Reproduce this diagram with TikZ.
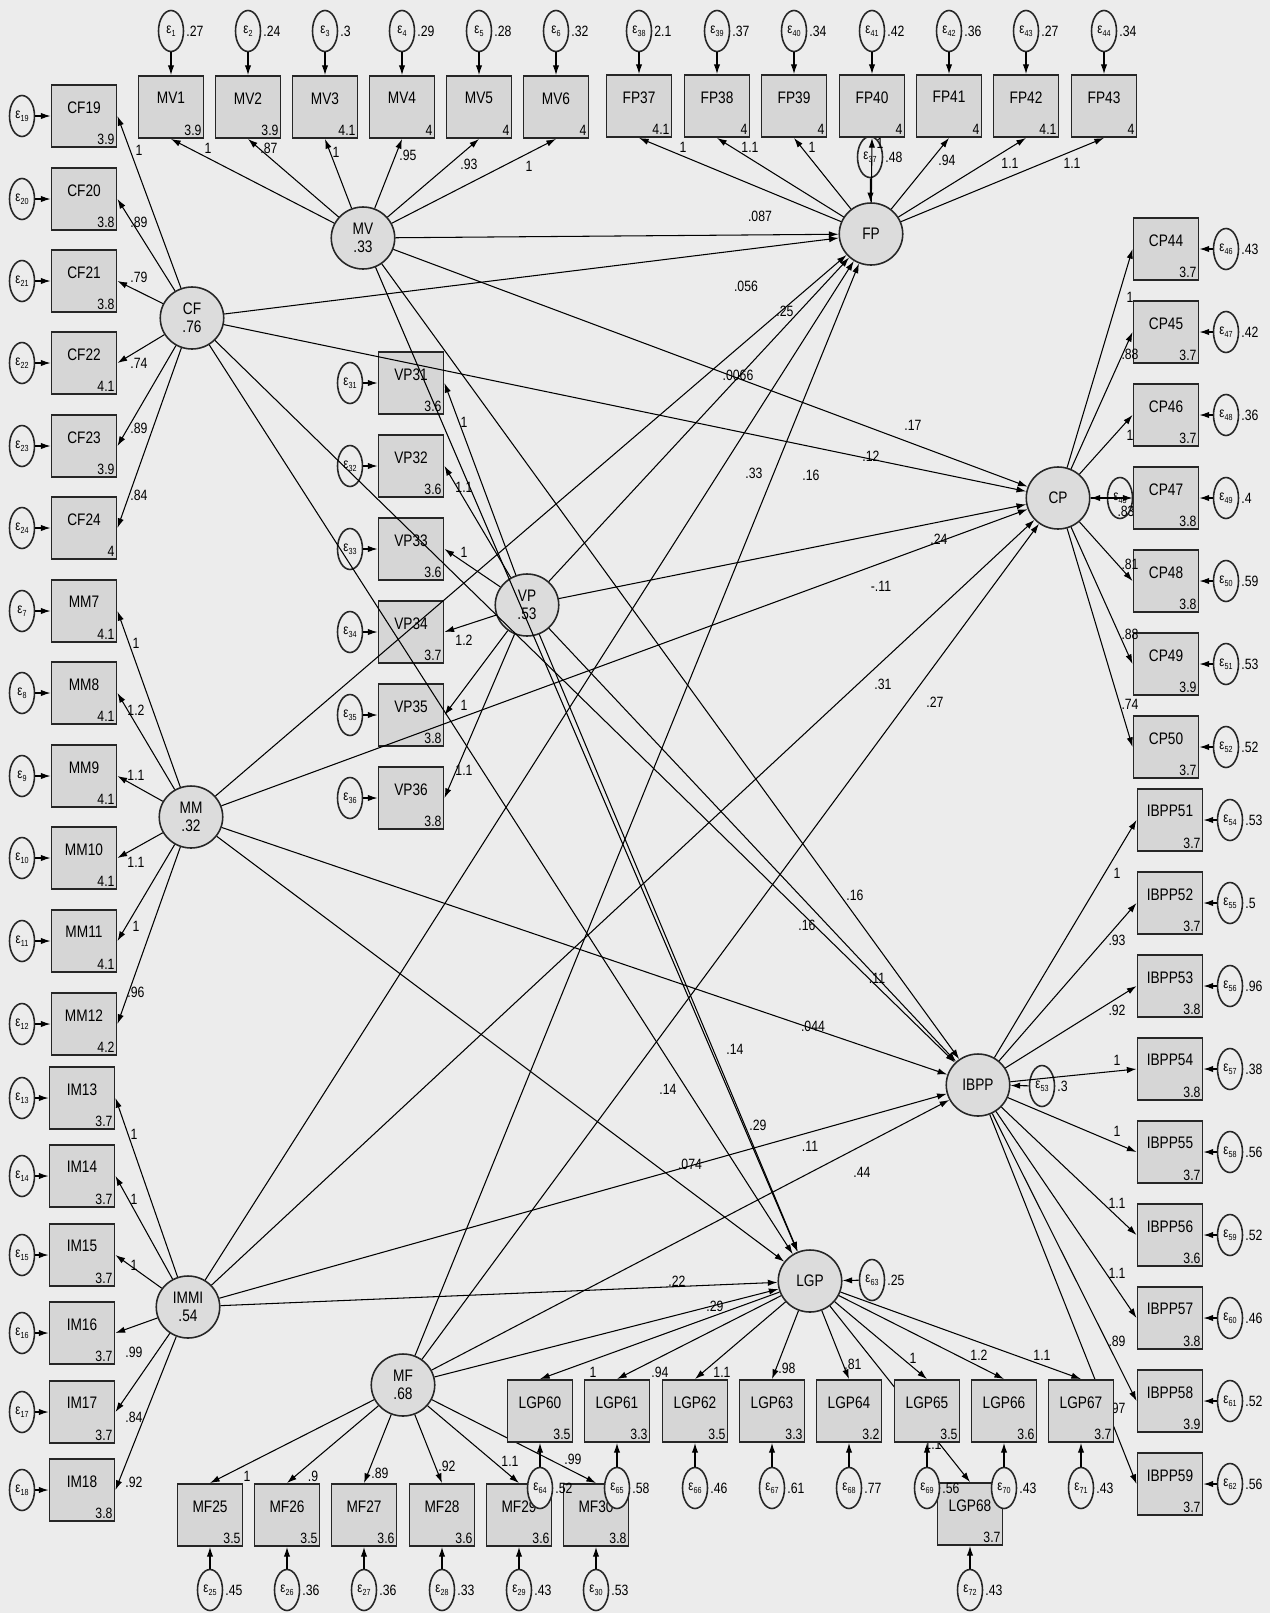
\documentclass[tikz,border=0pt]{standalone}
\usepackage{fontspec}
\setmainfont{Liberation Sans}[FakeStretch=0.82]
\usepackage{xcolor}
\usetikzlibrary{shapes.geometric,arrows.meta}
\definecolor{boxgray}{RGB}{214,214,214}
\definecolor{paper}{RGB}{236,236,236}
\newcommand{\epsn}[1]{ε\raisebox{-1.5pt}{\fontsize{5}{5}\selectfont#1}}

\begin{document}
\begin{tikzpicture}[x=0.02cm,y=-0.02cm,
  obs/.style={rectangle,draw=black!85,line width=1.1pt,fill=boxgray,
    minimum width=1.3cm,minimum height=1.24cm,inner sep=0pt,
    text depth=10pt,font=\fontsize{9.5}{10}\selectfont},
  val/.style={anchor=south east,inner sep=1.5pt,font=\fontsize{8.5}{9}\selectfont},
  latent/.style={ellipse,draw=black!85,line width=0.9pt,fill=boxgray!85,
    minimum width=1.27cm,minimum height=1.24cm,inner sep=0pt,align=center,
    font=\fontsize{9.5}{10}\selectfont},
  err/.style={ellipse,draw=black!85,line width=0.9pt,fill=paper,
    minimum width=0.5cm,minimum height=0.82cm,inner sep=0pt,
    font=\fontsize{8}{8}\selectfont},
  errlbl/.style={inner sep=1pt,font=\fontsize{8.5}{9}\selectfont},
  lbl/.style={inner sep=0pt,font=\fontsize{8.5}{9}\selectfont},
  arrow/.style={-{Latex[length=5.5pt,width=3.6pt]},line width=0.6pt}
]
\useasboundingbox (0,0) rectangle (1270,1613);
\fill[paper] (0,0) rectangle (1270,1613);

% latent variables
\node[latent] (MV) at (363,238) {MV\\.33};
\node[latent] (CF) at (192,318) {CF\\.76};
\node[latent] (VP) at (527,605) {VP\\.53};
\node[latent] (MM) at (191,817) {MM\\.32};
\node[latent] (IMMI) at (188,1307) {IMMI\\.54};
\node[latent] (MF) at (403,1385) {MF\\.68};
\node[latent] (FP) at (871,234) {FP};
\node[latent] (CP) at (1058,498) {CP};
\node[latent] (IBPP) at (978,1085) {IBPP};
\node[latent] (LGP) at (810,1281) {LGP};

% disturbances
\node[err,label={[errlbl]right:.48}] (e37) at (870,157) {\epsn{37}};
\node[err,label={[errlbl]right:.52}] (e45) at (1120,498) {\epsn{45}};
\node[lbl] (v45) at (1126,511) {.83};
\node[err,label={[errlbl]right:.3}] (e53) at (1042,1086) {\epsn{53}};
\node[err,label={[errlbl]right:.25}] (e63) at (872,1280) {\epsn{63}};
\draw[arrow] (e37) -- (FP);
\draw[arrow] (e45) -- (CP);
\draw[arrow] (e53) -- (IBPP);
\draw[arrow] (e63) -- (LGP);

% MV indicators
\foreach \i/\px/\m/\w/\lx/\ly/\ev in {1/171/3.9/1/208/148/.27, 2/248/3.9/.87/269/148/.24,
    3/325/4.1/1/336/152/.3, 4/402/4/.95/408/155/.29, 5/479/4/.93/469/164/.28, 6/556/4/1/529/166/.32}{
  \node[obs,label={[val]south east:\m}] (MV\i) at (\px,107) {MV\i};
  \node[err,label={[errlbl]right:\ev}] (e\i) at (\px,31) {\epsn{\i}};
  \draw[arrow] (e\i) -- (MV\i);
  \draw[arrow] (MV) -- (MV\i.south);
  \node[lbl] (wMV\i) at (\lx,\ly) {\w};
}

% FP indicators
\foreach \i/\px/\m/\w/\lx/\ly/\e/\ev in {37/639/4.1/1/683/147/38/2.1, 38/717/4/1.1/750/147/39/.37,
    39/794/4/1/812/147/40/.34, 40/872/4/1/880/143/41/.42, 41/949/4/.94/947/160/42/.36,
    42/1026/4.1/1.1/1010/163/43/.27, 43/1104/4/1.1/1072/163/44/.34}{
  \node[obs,label={[val]south east:\m}] (FP\i) at (\px,106) {FP\i};
  \node[err,label={[errlbl]right:\ev}] (e\e) at (\px,31) {\epsn{\e}};
  \draw[arrow] (e\e) -- (FP\i);
  \draw[arrow] (FP) -- (FP\i.south);
  \node[lbl] (wFP\i) at (\lx,\ly) {\w};
}

% CF indicators
\foreach \i/\py/\m/\w/\ly in {19/116/3.9/1/150, 20/199/3.8/.89/222, 21/281/3.8/.79/277,
    22/363/4.1/.74/363, 23/446/3.9/.89/428, 24/528/4/.84/495}{
  \node[obs,label={[val]south east:\m}] (CF\i) at (84,\py) {CF\i};
  \node[err] (e\i) at (22,\py) {\epsn{\i}};
  \draw[arrow] (e\i) -- (CF\i);
  \draw[arrow] (CF) -- (CF\i.east);
  \node[lbl] (wCF\i) at (139,\ly) {\w};
}

% MM indicators
\foreach \i/\py/\m/\w/\ly in {7/611/4.1/1/643, 8/693/4.1/1.2/710, 9/776/4.1/1.1/775,
    10/858/4.1/1.1/862, 11/941/4.1/1/926, 12/1024/4.2/.96/992}{
  \node[obs,label={[val]south east:\m}] (MM\i) at (84,\py) {MM\i};
  \node[err] (e\i) at (22,\py) {\epsn{\i}};
  \draw[arrow] (e\i) -- (MM\i);
  \draw[arrow] (MM) -- (MM\i.east);
  \node[lbl] (wMM\i) at (136,\ly) {\w};
}

% IMMI indicators
\foreach \i/\py/\m/\w/\ly in {13/1098/3.7/1/1134, 14/1176/3.7/1/1199, 15/1255/3.7/1/1265,
    16/1333/3.7/.99/1352, 17/1412/3.7/.84/1417, 18/1490/3.8/.92/1482}{
  \node[obs,label={[val]south east:\m}] (IM\i) at (82,\py) {IM\i};
  \node[err] (e\i) at (22,\py) {\epsn{\i}};
  \draw[arrow] (e\i) -- (IM\i);
  \draw[arrow] (IMMI) -- (IM\i.east);
  \node[lbl] (wIM\i) at (134,\ly) {\w};
}

% VP indicators
\foreach \i/\py/\m/\w/\ly in {31/383/3.6/1/422, 32/466/3.6/1.1/487, 33/549/3.6/1/552,
    34/632/3.7/1.2/640, 35/715/3.8/1/705, 36/798/3.8/1.1/770}{
  \node[obs,label={[val]south east:\m}] (VP\i) at (411,\py) {VP\i};
  \node[err] (e\i) at (350,\py) {\epsn{\i}};
  \draw[arrow] (e\i) -- (VP\i);
  \draw[arrow] (VP) -- (VP\i.east);
  \node[lbl] (wVP\i) at (464,\ly) {\w};
}

% CP indicators
\foreach \i/\py/\m/\w/\ly/\e/\ev in {44/249/3.7/1/297/46/.43, 45/332/3.7/.88/354/47/.42,
    46/415/3.7/1/435/48/.36, 47/498/3.8/{}/498/49/.4, 48/581/3.8/.81/564/50/.59,
    49/664/3.9/.88/634/51/.53, 50/747/3.7/.74/704/52/.52}{
  \node[obs,label={[val]south east:\m}] (CP\i) at (1166,\py) {CP\i};
  \node[err,label={[errlbl]right:\ev}] (e\e) at (1226,\py) {\epsn{\e}};
  \draw[arrow] (e\e) -- (CP\i);
  \draw[arrow] (CP) -- (CP\i.west);
  \node[lbl] (wCP\i) at (1130,\ly) {\w};
}

% IBPP indicators
\foreach \i/\py/\m/\w/\ly/\e/\ev in {51/820/3.7/1/873/54/.53, 52/903/3.7/.93/940/55/.5,
    53/986/3.8/.92/1010/56/.96, 54/1069/3.8/1/1060/57/.38, 55/1152/3.7/1/1131/58/.56,
    56/1235/3.6/1.1/1203/59/.52, 57/1318/3.8/1.1/1273/60/.46, 58/1401/3.9/.89/1341/61/.52,
    59/1484/3.7/.97/1408/62/.56}{
  \node[obs,label={[val]south east:\m}] (IBPP\i) at (1170,\py) {IBPP\i};
  \node[err,label={[errlbl]right:\ev}] (e\e) at (1230,\py) {\epsn{\e}};
  \draw[arrow] (e\e) -- (IBPP\i);
  \draw[arrow] (IBPP) -- (IBPP\i.west);
  \node[lbl] (wIBPP\i) at (1117,\ly) {\w};
}

% MF indicators
\foreach \i/\px/\m/\w/\lx/\ly/\ev in {25/210/3.5/1/247/1476/.45, 26/287/3.5/.9/313/1476/.36,
    27/364/3.6/.89/380/1473/.36, 28/442/3.6/.92/447/1466/.33, 29/519/3.6/1.1/510/1461/.43,
    30/596/3.8/.99/573/1459/.53}{
  \node[obs,label={[val]south east:\m}] (MF\i) at (\px,1515) {MF\i};
  \node[err,label={[errlbl]right:\ev}] (e\i) at (\px,1590) {\epsn{\i}};
  \draw[arrow] (e\i) -- (MF\i);
  \draw[arrow] (MF) -- (MF\i.north);
  \node[lbl] (wMF\i) at (\lx,\ly) {\w};
}

% LGP indicators
\node[obs,label={[val]south east:3.7}] (LGP68) at (970,1514) {LGP68};
\node[err,label={[errlbl]right:.43}] (e72) at (970,1590) {\epsn{72}};
\draw[arrow] (e72) -- (LGP68);
\draw[arrow] (LGP) -- (LGP68.north);
\node[lbl] (wLGP68) at (933,1444) {1.1};
\foreach \i/\px/\m/\w/\lx/\ly/\e/\ev in {60/540/3.5/1/593/1372/64/.52, 61/617/3.3/.94/660/1372/65/.58,
    62/695/3.5/1.1/722/1372/66/.46, 63/772/3.3/.98/787/1368/67/.61, 64/849/3.2/.81/853/1364/68/.77,
    65/927/3.5/1/913/1358/69/.56, 66/1004/3.6/1.2/979/1355/70/.43, 67/1081/3.7/1.1/1042/1355/71/.43}{
  \node[obs,label={[val]south east:\m}] (LGP\i) at (\px,1411) {LGP\i};
  \node[err,label={[errlbl]right:\ev}] (e\e) at (\px,1488) {\epsn{\e}};
  \draw[arrow] (e\e) -- (LGP\i);
  \draw[arrow] (LGP) -- (LGP\i.north);
  \node[lbl] (wLGP\i) at (\lx,\ly) {\w};
}

% structural paths
\foreach \src in {MV,CF,VP,MM,IMMI,MF}{
  \draw[arrow] (\src) -- (FP);
  \draw[arrow] (\src) -- (CP);
  \draw[arrow] (\src) -- (IBPP);
  \draw[arrow] (\src) -- (LGP);
}
\node[lbl] (pMVFP) at (760,216) {.087};
\node[lbl] (pCFFP) at (746,286) {.056};
\node[lbl] (pVPFP) at (738,375) {.0066};
\node[lbl] (pMMFP) at (785,311) {.25};
\node[lbl] (pIMFP) at (754,473) {.33};
\node[lbl] (pMFFP) at (811,475) {.16};
\node[lbl] (pMVCP) at (913,425) {.17};
\node[lbl] (pCFCP) at (871,456) {.12};
\node[lbl] (pVPCP) at (939,539) {.24};
\node[lbl] (pMMCP) at (881,586) {-.11};
\node[lbl] (pIMCP) at (883,684) {.31};
\node[lbl] (pMFCP) at (935,702) {.27};
\node[lbl] (pMVIB) at (855,895) {.16};
\node[lbl] (pCFIB) at (807,925) {.16};
\node[lbl] (pVPIB) at (877,978) {.11};
\node[lbl] (pMMIB) at (813,1026) {.044};
\node[lbl] (pIMIB) at (810,1146) {.11};
\node[lbl] (pMFIB) at (862,1172) {.44};
\node[lbl] (pMVLG) at (735,1049) {.14};
\node[lbl] (pCFLG) at (668,1089) {.14};
\node[lbl] (pVPLG) at (758,1125) {.29};
\node[lbl] (pMMLG) at (690,1164) {.074};
\node[lbl] (pIMLG) at (677,1281) {.22};
\node[lbl] (pMFLG) at (715,1306) {.29};
\end{tikzpicture}
\end{document}
